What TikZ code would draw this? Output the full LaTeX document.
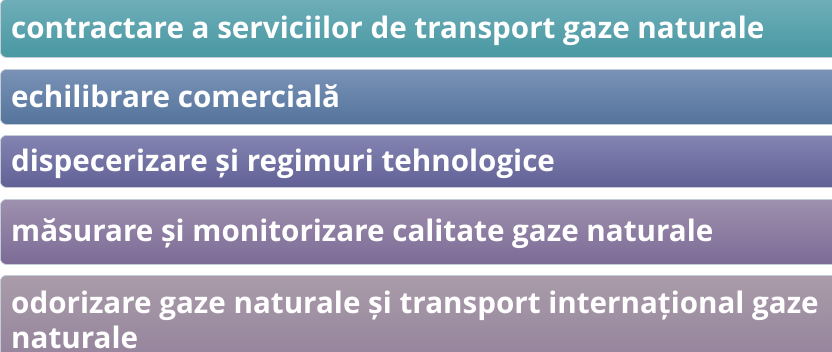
\documentclass[tikz,border=0pt]{standalone}
\usepackage{fontspec}
\setmainfont{Open Sans}
\usetikzlibrary{positioning}

\definecolor{bartopa}{RGB}{110,174,184}
\definecolor{barbota}{RGB}{72,152,162}
\definecolor{bartopb}{RGB}{122,146,182}
\definecolor{barbotb}{RGB}{84,116,156}
\definecolor{bartopc}{RGB}{132,132,178}
\definecolor{barbotc}{RGB}{96,96,150}
\definecolor{bartopd}{RGB}{158,144,174}
\definecolor{barbotd}{RGB}{124,106,150}
\definecolor{bartope}{RGB}{170,156,170}
\definecolor{barbote}{RGB}{146,128,154}
\definecolor{barline}{RGB}{196,204,216}

\begin{document}
\begin{tikzpicture}[x=1pt, y=-1pt,
        bar_style/.style={rectangle, rounded corners=6pt, anchor=north west, minimum width=880pt, inner sep=0pt, draw=barline, line width=0.8pt},
        label_style/.style={anchor=base west, inner sep=0pt, text=white, align=left, font=\bfseries\fontsize{29.6}{35}\selectfont}]

        \useasboundingbox (0,0) rectangle (832,351);
        \clip (0,0) rectangle (832,351);

        \node [bar_style, top color=bartopa, bottom color=barbota, minimum height=58pt](bar1) at (0,-1) {};

        \node [bar_style, top color=bartopb, bottom color=barbotb, minimum height=55pt](bar2) at (0,69) {};

        \node [bar_style, top color=bartopc, bottom color=barbotc, minimum height=52pt](bar3) at (0,135) {};

        \node [bar_style, top color=bartopd, bottom color=barbotd, minimum height=65pt](bar4) at (0,199) {};

        \node [bar_style, top color=bartope, bottom color=barbote, minimum height=95pt](bar5) at (0,275) {};

        \node [label_style](lab1) at (11,38) {contractare a serviciilor de transport gaze naturale};

        \node [label_style](lab2) at (11,107) {echilibrare comercială};

        \node [label_style](lab3) at (11,171) {dispecerizare și regimuri tehnologice};

        \node [label_style](lab4) at (11,241) {măsurare și monitorizare calitate gaze naturale};

        \node [label_style](lab5) at (11,348) {odorizare gaze naturale și transport internațional gaze\\naturale};

        \end{tikzpicture}
\end{document}
